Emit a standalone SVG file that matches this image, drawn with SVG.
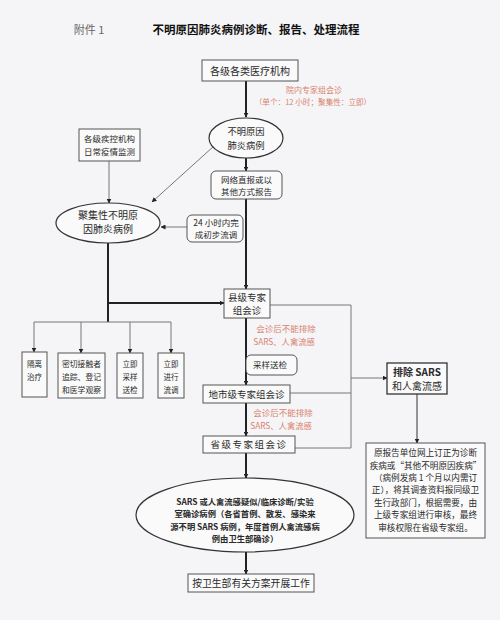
<svg xmlns="http://www.w3.org/2000/svg" width="500" height="620" viewBox="0 0 500 620">
<defs>
<marker id="ah" viewBox="0 0 10 10" refX="9" refY="5" markerWidth="5" markerHeight="5" orient="auto-start-reverse" markerUnits="userSpaceOnUse">
<path d="M0,0 L10,5 L0,10 z" fill="#222"/>
</marker>
<style>
text{font-family:"Noto Sans CJK SC","Noto Sans",sans-serif;fill:#2a2a2a;text-anchor:middle}
.box{fill:#fafafa;stroke:#555;stroke-width:1}
.ell{fill:#fafafa;stroke:#333;stroke-width:1.2}
.thick{stroke:#222;stroke-width:2;fill:none}
.thin{stroke:#777;stroke-width:1;fill:none}
.red{fill:#d9826e}
</style>
</defs>
<rect width="500" height="620" fill="#f5f5f7"/>
<text x="89" y="34" style="font-size:11px;fill:#666">附件 1</text>
<text x="256" y="34" style="font-size:11.5px;font-weight:bold;fill:#111">不明原因肺炎病例诊断、报告、处理流程</text>

<g id="connectors">
<line class="thick" x1="246" y1="81" x2="246" y2="117" marker-end="url(#ah)"/>
<line class="thick" x1="246" y1="158" x2="246" y2="171" marker-end="url(#ah)"/>
<line class="thick" x1="246" y1="199" x2="246" y2="289" marker-end="url(#ah)"/>
<line class="thin" x1="109" y1="161" x2="109" y2="203" marker-end="url(#ah)"/>
<line class="thin" x1="214" y1="146" x2="152" y2="202" marker-end="url(#ah)"/>
<line class="thin" x1="187" y1="227" x2="161" y2="227" marker-end="url(#ah)"/>
<polyline class="thick" points="108,243 108,322"/>
<line class="thick" x1="108" y1="303" x2="224" y2="303" marker-end="url(#ah)"/>
<polyline class="thin" points="34,322 171,322"/>
<line class="thin" x1="34" y1="322" x2="34" y2="352" marker-end="url(#ah)"/>
<line class="thin" x1="81" y1="322" x2="81" y2="353" marker-end="url(#ah)"/>
<line class="thin" x1="130" y1="322" x2="130" y2="353" marker-end="url(#ah)"/>
<line class="thin" x1="171" y1="322" x2="171" y2="353" marker-end="url(#ah)"/>
<line class="thick" x1="246" y1="318" x2="246" y2="385" marker-end="url(#ah)"/>
<line class="thick" x1="246" y1="403" x2="246" y2="436" marker-end="url(#ah)"/>
<line class="thick" x1="246" y1="453" x2="246" y2="478" marker-end="url(#ah)"/>
<line class="thick" x1="246" y1="552" x2="246" y2="574" marker-end="url(#ah)"/>
<polyline class="thin" points="270,305 351,305 351,448 295,448"/>
<line class="thin" x1="290" y1="393" x2="351" y2="393"/>
<line class="thin" x1="351" y1="378" x2="387" y2="378" marker-end="url(#ah)"/>
<line class="thin" x1="417" y1="394" x2="417" y2="443" style="stroke:#333" marker-end="url(#ah)"/>
</g>

<g id="n_yiliao">
<rect class="box" x="202" y="60" width="96" height="21"/>
<text x="250" y="75" style="font-size:10px">各级各类医疗机构</text>
</g>
<g id="n_note1">
<text class="red" x="314" y="93" style="font-size:8px">院内专家组会诊</text>
<text class="red" x="313" y="105" style="font-size:7.6px">（单个：12 小时；聚集性：立即）</text>
</g>
<g id="n_buming">
<ellipse class="ell" cx="246" cy="138" rx="37" ry="20"/>
<text x="246" y="135" style="font-size:9.3px">不明原因</text>
<text x="246" y="149" style="font-size:9.3px">肺炎病例</text>
</g>
<g id="n_jikong">
<rect class="box" x="79" y="129" width="61" height="32"/>
<text x="109.5" y="142" style="font-size:8.5px">各级疾控机构</text>
<text x="109.5" y="155" style="font-size:8.5px">日常疫情监测</text>
</g>
<g id="n_wangluo">
<rect class="box" x="211" y="171" width="71" height="28" rx="5"/>
<text x="246.5" y="183" style="font-size:8.5px">网络直报或以</text>
<text x="246.5" y="195" style="font-size:8.5px">其他方式报告</text>
</g>
<g id="n_juji">
<ellipse class="ell" cx="108" cy="223" rx="52" ry="20"/>
<text x="108" y="219" style="font-size:10px">聚集性不明原</text>
<text x="108" y="233" style="font-size:10px">因肺炎病例</text>
</g>
<g id="n_24h">
<rect class="box" x="187" y="215" width="56" height="27" rx="5"/>
<text x="216" y="226" style="font-size:8.5px">24 小时内完</text>
<text x="216" y="238" style="font-size:8.5px">成初步流调</text>
</g>
<g id="n_xianji">
<rect class="box" x="224" y="289" width="46" height="29"/>
<text x="247" y="301" style="font-size:9.5px">县级专家</text>
<text x="247" y="314" style="font-size:9.5px">组会诊</text>
</g>
<g id="n_note2">
<text class="red" x="286" y="332" style="font-size:8.5px">会诊后不能排除</text>
<text class="red" x="284" y="345" style="font-size:8.3px">SARS、人禽流感</text>
</g>
<g id="n_caiyang">
<rect class="box" x="246" y="355" width="51" height="20" rx="5"/>
<text x="270" y="368" style="font-size:8.5px">采样送检</text>
</g>
<g id="n_geli">
<rect class="box" x="22" y="352" width="25" height="45"/>
<text x="34.5" y="367" style="font-size:7.5px">隔离</text>
<text x="34.5" y="380" style="font-size:7.5px">治疗</text>
</g>
<g id="n_miqie">
<rect class="box" x="58" y="353" width="47" height="45"/>
<text x="81.5" y="367" style="font-size:7.8px">密切接触者</text>
<text x="81.5" y="380" style="font-size:7.8px">追踪、登记</text>
<text x="81.5" y="393" style="font-size:7.8px">和医学观察</text>
</g>
<g id="n_caiyang2">
<rect class="box" x="117" y="353" width="26" height="45"/>
<text x="130" y="367" style="font-size:7.5px">立即</text>
<text x="130" y="380" style="font-size:7.5px">采样</text>
<text x="130" y="393" style="font-size:7.5px">送检</text>
</g>
<g id="n_liudiao">
<rect class="box" x="158" y="353" width="26" height="45"/>
<text x="171" y="367" style="font-size:7.5px">立即</text>
<text x="171" y="380" style="font-size:7.5px">进行</text>
<text x="171" y="393" style="font-size:7.5px">流调</text>
</g>
<g id="n_dishi">
<rect class="box" x="203" y="385" width="87" height="18"/>
<text x="246.5" y="397.5" style="font-size:9.5px">地市级专家组会诊</text>
</g>
<g id="n_note3">
<text class="red" x="283" y="416" style="font-size:8.5px">会诊后不能排除</text>
<text class="red" x="281" y="429" style="font-size:8.3px">SARS、人禽流感</text>
</g>
<g id="n_shengji">
<rect class="box" x="203" y="436" width="92" height="17"/>
<text x="249" y="448" style="font-size:9.5px;letter-spacing:1.5px">省级专家组会诊</text>
</g>
<g id="n_paichu">
<rect class="box" x="387" y="363" width="60" height="31" style="stroke:#333;stroke-width:1.3"/>
<text x="417" y="376" style="font-size:10px;font-weight:bold">排除 SARS</text>
<text x="417" y="390" style="font-size:10px">和人禽流感</text>
</g>
<g id="n_dingzheng">
<rect class="box" x="366" y="443" width="119" height="95"/>
<text x="425.5" y="456" style="font-size:8.6px">原报告单位网上订正为诊断</text>
<text x="425.5" y="469" style="font-size:8.6px">疾病或“其他不明原因疾病”</text>
<text x="425.5" y="481" style="font-size:8.6px">（病例发病 1 个月以内需订</text>
<text x="425.5" y="493" style="font-size:8.6px">正），将其调查资料报同级卫</text>
<text x="425.5" y="506" style="font-size:8.6px">生行政部门，根据需要，由</text>
<text x="425.5" y="518" style="font-size:8.6px">上级专家组进行审核，最终</text>
<text x="425.5" y="531" style="font-size:8.6px">审核权限在省级专家组。</text>
</g>
<g id="n_queazhen">
<ellipse class="ell" cx="245" cy="515" rx="109" ry="37"/>
<text x="245" y="505" style="font-size:8.3px;font-weight:bold">SARS 或人禽流感疑似/临床诊断/实验</text>
<text x="245" y="517" style="font-size:8.3px;font-weight:bold">室确诊病例（各省首例、散发、感染来</text>
<text x="245" y="530" style="font-size:8.3px;font-weight:bold">源不明 SARS 病例，年度首例人禽流感病</text>
<text x="245" y="542" style="font-size:8.3px;font-weight:bold">例由卫生部确诊）</text>
</g>
<g id="n_final">
<rect class="box" x="188" y="574" width="126" height="18"/>
<text x="251" y="587" style="font-size:9.8px">按卫生部有关方案开展工作</text>
</g>
</svg>
